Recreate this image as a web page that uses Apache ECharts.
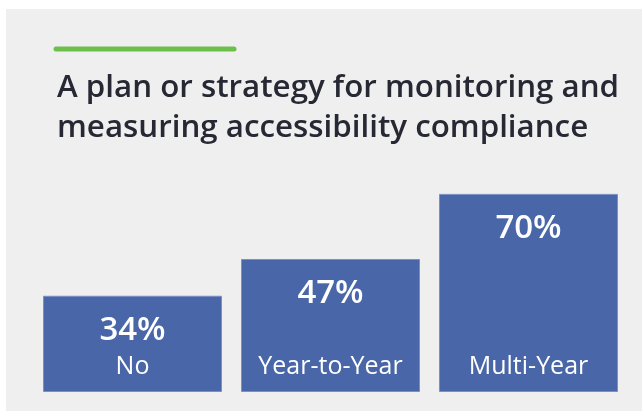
<!DOCTYPE html>
<html>
<head>
<meta charset="utf-8">
<script src="https://cdn.jsdelivr.net/npm/echarts@6/dist/echarts.min.js"></script>
<style>
  html, body { margin: 0; padding: 0; background: #ffffff; }
  #chart { width: 642px; height: 411px; }
</style>
</head>
<body>
<div id="chart"></div>
<script>
// chart data
var categories = ['No', 'Year-to-Year', 'Multi-Year'];
var values = [34, 47, 70];
var titleLines = ['A plan or strategy for monitoring and', 'measuring accessibility compliance'];

var myChart = echarts.init(document.getElementById('chart'));
var option = {
	backgroundColor : '#ffffff',
	animation : false,
	graphic : [ {
		type : 'rect',
		z : -10,
		shape : { x : 6, y : 9, width : 636, height : 402 },
		style : { fill : '#efefef' }
	}, {
		type : 'line',
		z : 5,
		shape : { x1 : 56, y1 : 49, x2 : 234, y2 : 49 },
		style : { stroke : '#6cc04a', lineWidth : 5, lineCap : 'round' }
	} ],
	title : {
		text : titleLines.join('\n'),
		left : 52,
		top : 63,
		textStyle : {
			fontFamily : 'Open Sans',
			fontWeight : 600,
			fontSize : 31.3,
			lineHeight : 40,
			color : '#262833'
		}
	},
	grid : {
		left : 33.5,
		right : 14.5,
		top : 109,
		bottom : 19
	},
	xAxis : {
		type : 'category',
		data : categories,
		z : 10,
		axisLine : { show : false },
		axisTick : { show : false },
		axisLabel : {
			inside : true,
			margin : 13,
			color : '#ffffff',
			fontFamily : 'Open Sans',
			fontSize : 25
		}
	},
	yAxis : {
		type : 'value',
		min : 0,
		max : 100,
		show : false,
		splitLine : { show : false }
	},
	series : [ {
		type : 'bar',
		data : values,
		barWidth : 179,
		itemStyle : {
			color : '#4866a8',
			borderColor : '#7b90c2',
			borderWidth : 1
		},
		label : {
			show : true,
			position : 'insideTop',
			distance : 18,
			formatter : '{c}%',
			color : '#ffffff',
			fontFamily : 'Open Sans',
			fontWeight : 600,
			fontSize : 33
		}
	} ]
};
myChart.setOption(option);
</script>
</body>
</html>
